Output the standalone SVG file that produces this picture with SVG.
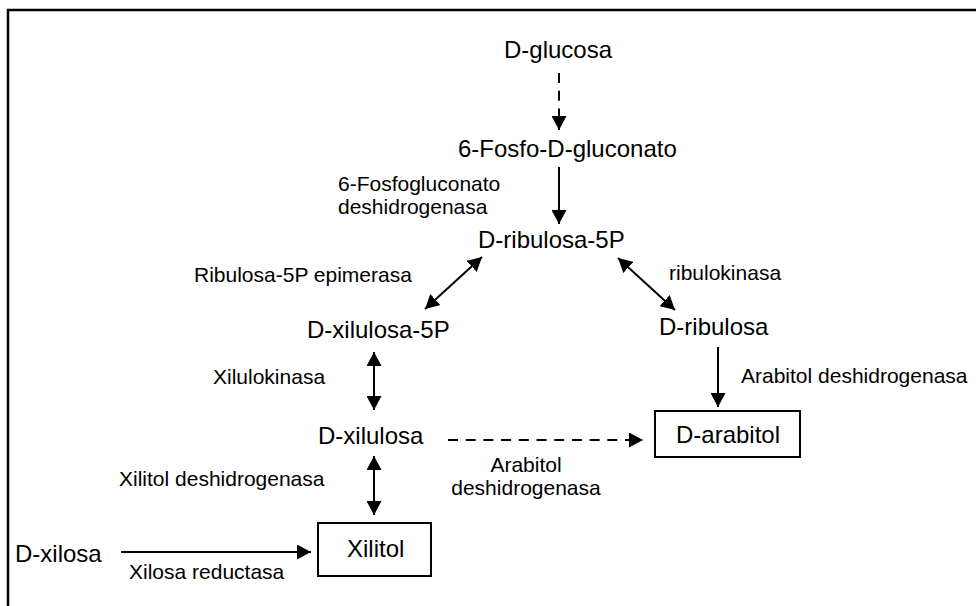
<svg xmlns="http://www.w3.org/2000/svg" width="976" height="606" viewBox="0 0 976 606">
<style>
.n{font-family:"Liberation Sans",Arial,sans-serif;font-size:24px;fill:#000}
.l{font-family:"Liberation Sans",Arial,sans-serif;font-size:21px;fill:#000}
.c{stroke:#000;stroke-width:2;fill:none}
.d{stroke-dasharray:10 7.7}
.b{fill:#fff;stroke:#000;stroke-width:2}
</style>
<defs>
<marker id="ah" viewBox="0 0 14 15" refX="14" refY="7.5" markerWidth="14" markerHeight="15" markerUnits="userSpaceOnUse" orient="auto-start-reverse">
<path d="M0,0 L14,7.5 L0,15 z" fill="#000"/>
</marker>
</defs>
<rect width="976" height="606" fill="#fff"/>
<g id="frame"><path d="M8,606 V10 H976" stroke="#000" stroke-width="2.5" fill="none"/></g>
<g id="connectors">
<line class="c d" x1="559" y1="73" x2="559" y2="130" marker-end="url(#ah)"/>
<line class="c" x1="559" y1="167" x2="559" y2="224" marker-end="url(#ah)"/>
<line class="c" x1="425" y1="309" x2="482" y2="257" marker-start="url(#ah)" marker-end="url(#ah)"/>
<line class="c" x1="618" y1="258" x2="675" y2="310" marker-start="url(#ah)" marker-end="url(#ah)"/>
<line class="c" x1="374" y1="352" x2="374" y2="410" marker-start="url(#ah)" marker-end="url(#ah)"/>
<line class="c" x1="718" y1="347" x2="718" y2="407" marker-end="url(#ah)"/>
<line class="c d" x1="448" y1="440" x2="643" y2="440" marker-end="url(#ah)"/>
<line class="c" x1="374" y1="456" x2="374" y2="515" marker-start="url(#ah)" marker-end="url(#ah)"/>
<line class="c" x1="121" y1="552" x2="311" y2="552" marker-end="url(#ah)"/>
</g>
<g id="n-glucosa"><text class="n" x="504" y="58">D-glucosa</text></g>
<g id="n-fosfogluconato"><text class="n" x="458" y="157">6-Fosfo-D-gluconato</text></g>
<g id="n-ribulosa5p"><text class="n" x="478" y="248">D-ribulosa-5P</text></g>
<g id="n-xilulosa5p"><text class="n" x="307" y="338">D-xilulosa-5P</text></g>
<g id="n-ribulosa"><text class="n" x="659" y="335">D-ribulosa</text></g>
<g id="n-xilulosa"><text class="n" x="318" y="444">D-xilulosa</text></g>
<g id="n-arabitol"><rect class="b" x="655" y="411" width="145" height="46"/><text class="n" x="676" y="443">D-arabitol</text></g>
<g id="n-xilitol"><rect class="b" x="318" y="523" width="113" height="53"/><text class="n" x="347" y="557">Xilitol</text></g>
<g id="n-xilosa"><text class="n" x="15" y="562">D-xilosa</text></g>
<g id="labels">
<text class="l" x="338" y="191">6-Fosfogluconato</text>
<text class="l" x="338" y="214">deshidrogenasa</text>
<text class="l" x="194" y="282">Ribulosa-5P epimerasa</text>
<text class="l" x="669" y="280">ribulokinasa</text>
<text class="l" x="213" y="384">Xilulokinasa</text>
<text class="l" x="741" y="383">Arabitol deshidrogenasa</text>
<text class="l" x="526" y="472" text-anchor="middle">Arabitol</text>
<text class="l" x="526" y="495" text-anchor="middle">deshidrogenasa</text>
<text class="l" x="119" y="486">Xilitol deshidrogenasa</text>
<text class="l" x="129" y="579">Xilosa reductasa</text>
</g>
</svg>
